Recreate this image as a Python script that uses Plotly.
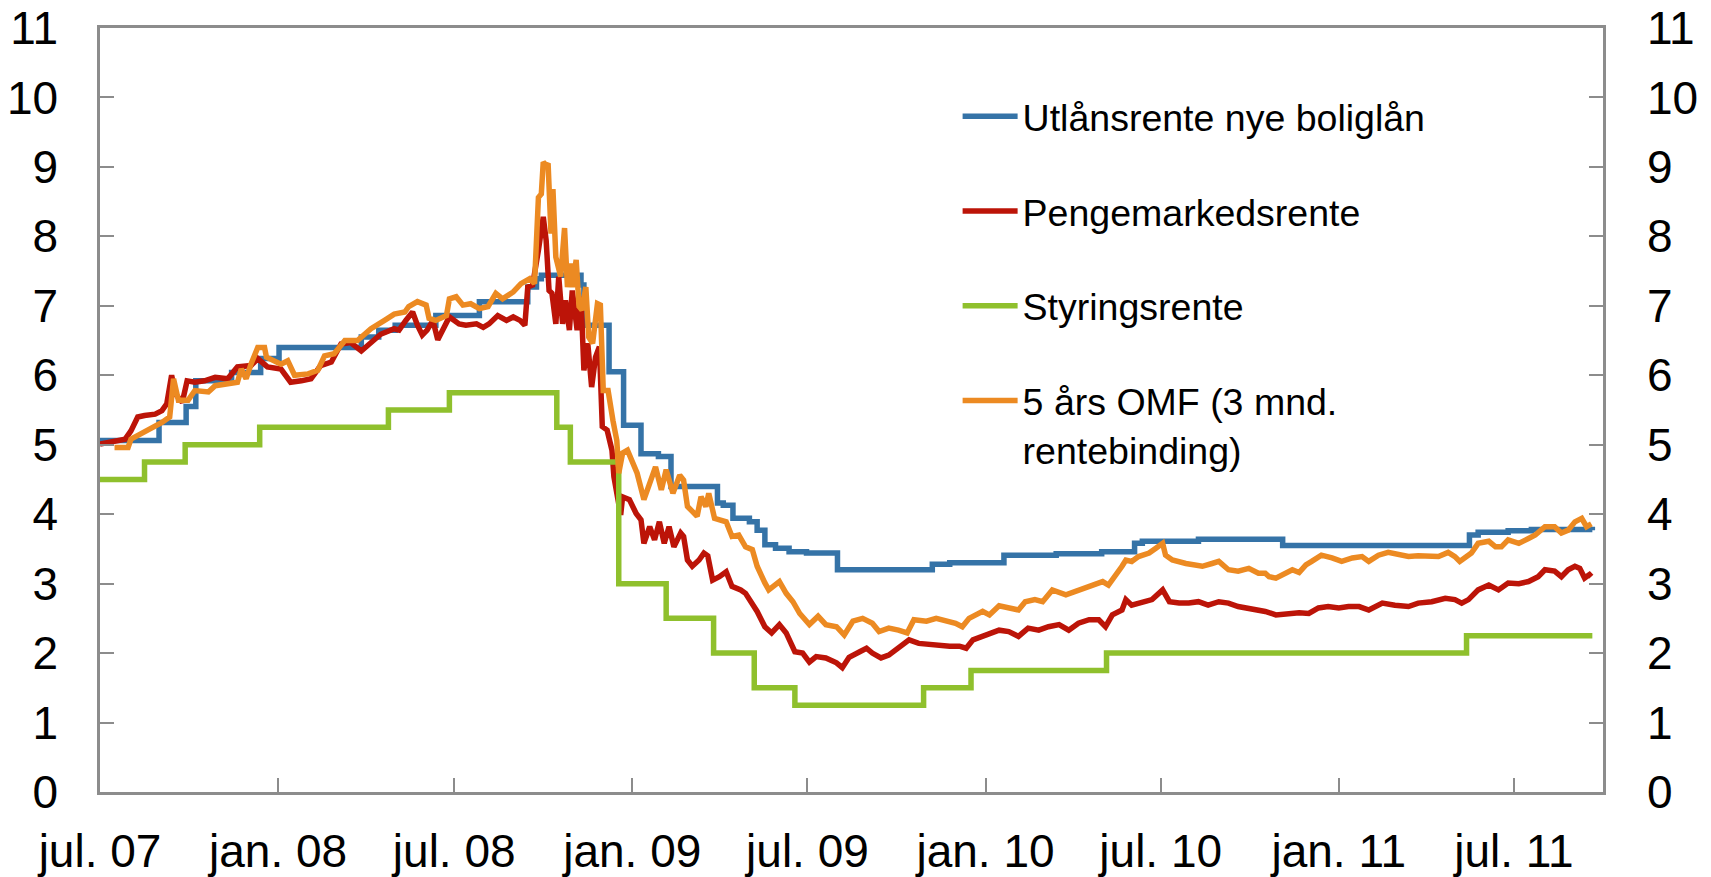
import plotly.graph_objects as go

# ---------------- data ----------------
bolig_dates = ["2007-07-01", "2007-08-31", "2007-09-28", "2007-10-08", "2007-11-14", "2007-12-14",
               "2008-01-02", "2008-03-27", "2008-04-14", "2008-05-01", "2008-06-12", "2008-07-27",
               "2008-09-15", "2008-09-24", "2008-09-29", "2008-11-09", "2008-11-12", "2008-12-08",
               "2008-12-23", "2009-01-10", "2009-01-28", "2009-02-10", "2009-03-30", "2009-04-05",
               "2009-04-15", "2009-05-02", "2009-05-10", "2009-05-18", "2009-05-29", "2009-06-12",
               "2009-06-30", "2009-08-01", "2009-11-07", "2009-11-25", "2010-01-20", "2010-03-15",
               "2010-05-01", "2010-06-04", "2010-06-12", "2010-08-09", "2010-11-04", "2011-05-16",
               "2011-05-25", "2011-06-25", "2011-07-19", "2011-09-20"]
bolig_values = [5.06, 5.32, 5.55, 5.92, 6.04, 6.24,
                6.40, 6.55, 6.65, 6.72, 6.86, 7.06,
                7.27, 7.39, 7.44, 7.30, 6.72, 6.05,
                5.28, 4.87, 4.83, 4.40, 4.16, 4.13,
                3.94, 3.89, 3.77, 3.56, 3.51, 3.46,
                3.44, 3.20, 3.28, 3.30, 3.41, 3.43,
                3.46, 3.58, 3.61, 3.64, 3.55, 3.70,
                3.74, 3.76, 3.78, 3.77]

penge_dates = ["2007-07-01", "2007-07-16", "2007-07-27", "2007-08-02", "2007-08-09", "2007-08-16",
               "2007-08-27", "2007-09-03", "2007-09-08", "2007-09-13", "2007-09-17", "2007-09-24",
               "2007-09-29", "2007-10-07", "2007-10-17", "2007-10-28", "2007-11-10", "2007-11-20",
               "2007-12-04", "2007-12-11", "2007-12-21", "2008-01-04", "2008-01-14", "2008-01-25",
               "2008-02-04", "2008-02-14", "2008-02-25", "2008-03-06", "2008-03-16", "2008-03-27",
               "2008-04-06", "2008-04-16", "2008-04-30", "2008-05-05", "2008-05-12", "2008-05-19",
               "2008-05-24", "2008-05-29", "2008-06-03", "2008-06-09", "2008-06-14", "2008-06-19",
               "2008-06-26", "2008-07-06", "2008-07-13", "2008-07-24", "2008-07-31", "2008-08-06",
               "2008-08-15", "2008-08-24", "2008-08-31", "2008-09-07", "2008-09-12", "2008-09-15",
               "2008-09-20", "2008-09-26", "2008-09-29", "2008-10-01", "2008-10-04", "2008-10-07",
               "2008-10-10", "2008-10-14", "2008-10-17", "2008-10-21", "2008-10-24", "2008-10-28",
               "2008-10-31", "2008-11-05", "2008-11-09", "2008-11-12", "2008-11-16", "2008-11-20",
               "2008-11-24", "2008-11-28", "2008-12-01", "2008-12-06", "2008-12-11", "2008-12-13",
               "2008-12-20", "2008-12-22", "2008-12-29", "2009-01-05", "2009-01-10", "2009-01-13",
               "2009-01-19", "2009-01-24", "2009-01-29", "2009-02-03", "2009-02-08", "2009-02-13",
               "2009-02-20", "2009-02-23", "2009-02-27", "2009-03-04", "2009-03-11", "2009-03-16",
               "2009-03-20", "2009-03-25", "2009-04-01", "2009-04-08", "2009-04-14", "2009-04-23",
               "2009-04-28", "2009-05-05", "2009-05-10", "2009-05-18", "2009-05-25", "2009-06-02",
               "2009-06-09", "2009-06-18", "2009-06-26", "2009-07-03", "2009-07-10", "2009-07-20",
               "2009-07-31", "2009-08-06", "2009-08-13", "2009-08-24", "2009-08-31", "2009-09-06",
               "2009-09-15", "2009-09-23", "2009-10-03", "2009-10-14", "2009-10-24", "2009-11-04",
               "2009-11-15", "2009-11-25", "2009-12-05", "2009-12-12", "2009-12-19", "2010-01-01",
               "2010-01-08", "2010-01-15", "2010-01-25", "2010-02-04", "2010-02-14", "2010-02-25",
               "2010-03-07", "2010-03-18", "2010-03-28", "2010-04-07", "2010-04-18", "2010-04-28",
               "2010-05-05", "2010-05-12", "2010-05-22", "2010-05-26", "2010-06-01", "2010-06-12",
               "2010-06-22", "2010-07-03", "2010-07-10", "2010-07-20", "2010-07-30", "2010-08-09",
               "2010-08-19", "2010-08-30", "2010-09-09", "2010-09-19", "2010-09-30", "2010-10-10",
               "2010-10-17", "2010-10-28", "2010-11-07", "2010-11-14", "2010-11-21", "2010-12-01",
               "2010-12-11", "2010-12-21", "2011-01-01", "2011-01-11", "2011-01-22", "2011-02-01",
               "2011-02-15", "2011-02-28", "2011-03-14", "2011-03-24", "2011-04-07", "2011-04-21",
               "2011-05-01", "2011-05-08", "2011-05-15", "2011-05-25", "2011-06-05", "2011-06-15",
               "2011-06-25", "2011-07-06", "2011-07-16", "2011-07-26", "2011-08-02", "2011-08-12",
               "2011-08-19", "2011-08-26", "2011-09-02", "2011-09-07", "2011-09-12", "2011-09-17",
               "2011-09-19"]
penge_values = [5.01, 5.06, 5.08, 5.20, 5.40, 5.42,
                5.44, 5.49, 5.59, 6.00, 5.73, 5.61,
                5.92, 5.90, 5.92, 5.97, 5.95, 6.12,
                6.14, 6.24, 6.12, 6.09, 5.90, 5.92,
                5.95, 6.14, 6.19, 6.45, 6.47, 6.35,
                6.47, 6.59, 6.67, 6.65, 6.79, 6.91,
                6.72, 6.58, 6.65, 6.79, 6.51, 6.65,
                6.84, 6.74, 6.72, 6.74, 6.69, 6.74,
                6.86, 6.79, 6.84, 6.79, 6.72, 7.27,
                7.30, 7.80, 8.04, 8.28, 7.94, 7.22,
                7.18, 6.74, 7.42, 6.74, 7.08, 6.65,
                7.22, 6.65, 7.13, 6.07, 6.46, 5.83,
                6.26, 6.41, 5.26, 5.21, 4.92, 4.54,
                3.99, 4.25, 4.21, 4.01, 3.92, 3.58,
                3.82, 3.63, 3.89, 3.58, 3.82, 3.53,
                3.73, 3.68, 3.34, 3.25, 3.34, 3.44,
                3.40, 3.05, 3.10, 3.17, 2.96, 2.91,
                2.86, 2.72, 2.60, 2.38, 2.29, 2.41,
                2.29, 2.02, 2.00, 1.87, 1.95, 1.93,
                1.86, 1.79, 1.94, 2.02, 2.07, 2.00,
                1.93, 1.97, 2.07, 2.19, 2.14, 2.12,
                2.10, 2.10, 2.10, 2.07, 2.19, 2.26,
                2.31, 2.33, 2.31, 2.24, 2.36, 2.33,
                2.38, 2.41, 2.33, 2.43, 2.48, 2.48,
                2.38, 2.55, 2.62, 2.77, 2.69, 2.74,
                2.77, 2.91, 2.74, 2.72, 2.72, 2.74,
                2.69, 2.74, 2.72, 2.67, 2.65, 2.62,
                2.60, 2.55, 2.57, 2.57, 2.58, 2.57,
                2.65, 2.67, 2.65, 2.67, 2.67, 2.62,
                2.72, 2.69, 2.67, 2.72, 2.74, 2.79,
                2.77, 2.72, 2.77, 2.91, 2.98, 2.91,
                3.01, 3.00, 3.03, 3.10, 3.20, 3.18,
                3.10, 3.20, 3.25, 3.22, 3.08, 3.13,
                3.10]

styring_dates = ["2007-07-01", "2007-08-16", "2007-09-27", "2007-12-13", "2008-04-24", "2008-06-26",
                 "2008-10-15", "2008-10-29", "2008-12-18", "2009-02-05", "2009-03-26", "2009-05-07",
                 "2009-06-18", "2009-10-29", "2009-12-17", "2010-05-06", "2011-05-13", "2011-09-20"]
styring_values = [4.50, 4.75, 5.00, 5.25, 5.50, 5.75,
                  5.25, 4.75, 3.00, 2.50, 2.00, 1.50,
                  1.25, 1.50, 1.75, 2.00, 2.25, 2.25]

omf_dates = ["2007-07-16", "2007-07-30", "2007-08-02", "2007-08-13", "2007-08-23", "2007-09-03",
             "2007-09-11", "2007-09-15", "2007-09-20", "2007-09-30", "2007-10-07", "2007-10-21",
             "2007-10-28", "2007-11-10", "2007-11-20", "2007-11-24", "2007-11-29", "2007-12-04",
             "2007-12-11", "2007-12-18", "2007-12-20", "2008-01-04", "2008-01-11", "2008-01-18",
             "2008-02-01", "2008-02-11", "2008-02-18", "2008-02-28", "2008-03-10", "2008-03-23",
             "2008-04-06", "2008-04-20", "2008-04-30", "2008-05-11", "2008-05-15", "2008-05-24",
             "2008-06-02", "2008-06-05", "2008-06-12", "2008-06-23", "2008-06-26", "2008-07-03",
             "2008-07-10", "2008-07-18", "2008-07-27", "2008-08-05", "2008-08-13", "2008-08-20",
             "2008-08-31", "2008-09-08", "2008-09-17", "2008-09-22", "2008-09-24", "2008-09-26",
             "2008-09-29", "2008-10-01", "2008-10-04", "2008-10-06", "2008-10-09", "2008-10-11",
             "2008-10-14", "2008-10-19", "2008-10-23", "2008-10-26", "2008-10-30", "2008-10-31",
             "2008-11-04", "2008-11-07", "2008-11-10", "2008-11-14", "2008-11-17", "2008-11-21",
             "2008-11-26", "2008-11-29", "2008-12-02", "2008-12-07", "2008-12-12", "2008-12-16",
             "2008-12-18", "2008-12-22", "2008-12-27", "2009-01-01", "2009-01-06", "2009-01-13",
             "2009-01-19", "2009-01-25", "2009-01-31", "2009-02-05", "2009-02-12", "2009-02-19",
             "2009-02-23", "2009-02-27", "2009-03-04", "2009-03-09", "2009-03-13", "2009-03-18",
             "2009-03-21", "2009-03-27", "2009-04-08", "2009-04-14", "2009-04-21", "2009-04-28",
             "2009-05-05", "2009-05-10", "2009-05-18", "2009-05-22", "2009-06-02", "2009-06-09",
             "2009-06-16", "2009-06-23", "2009-07-03", "2009-07-12", "2009-07-20", "2009-07-31",
             "2009-08-08", "2009-08-17", "2009-08-27", "2009-09-06", "2009-09-13", "2009-09-23",
             "2009-10-03", "2009-10-12", "2009-10-19", "2009-11-01", "2009-11-11", "2009-11-22",
             "2009-12-01", "2009-12-08", "2009-12-15", "2009-12-29", "2010-01-05", "2010-01-15",
             "2010-01-25", "2010-02-04", "2010-02-11", "2010-02-21", "2010-03-01", "2010-03-11",
             "2010-03-25", "2010-04-04", "2010-04-14", "2010-04-25", "2010-05-02", "2010-05-08",
             "2010-05-15", "2010-05-22", "2010-05-26", "2010-06-01", "2010-06-08", "2010-06-19",
             "2010-06-26", "2010-07-03", "2010-07-06", "2010-07-13", "2010-07-27", "2010-08-02",
             "2010-08-13", "2010-08-23", "2010-08-30", "2010-09-09", "2010-09-19", "2010-09-30",
             "2010-10-10", "2010-10-17", "2010-10-21", "2010-10-28", "2010-11-07", "2010-11-14",
             "2010-11-21", "2010-11-28", "2010-12-04", "2010-12-14", "2010-12-25", "2011-01-04",
             "2011-01-15", "2011-01-25", "2011-02-01", "2011-02-11", "2011-02-21", "2011-03-04",
             "2011-03-14", "2011-03-24", "2011-04-04", "2011-04-14", "2011-04-24", "2011-05-01",
             "2011-05-06", "2011-05-11", "2011-05-18", "2011-05-25", "2011-06-05", "2011-06-12",
             "2011-06-18", "2011-06-25", "2011-07-06", "2011-07-16", "2011-07-23", "2011-08-02",
             "2011-08-12", "2011-08-19", "2011-08-26", "2011-09-02", "2011-09-09", "2011-09-14",
             "2011-09-19"]
omf_values = [4.96, 4.96, 5.08, 5.16, 5.25, 5.32,
              5.40, 5.95, 5.64, 5.64, 5.78, 5.76,
              5.85, 5.88, 5.90, 6.09, 5.95, 6.16,
              6.40, 6.40, 6.26, 6.16, 6.21, 6.00,
              6.02, 6.07, 6.28, 6.31, 6.50, 6.50,
              6.67, 6.79, 6.88, 6.91, 6.99, 7.06,
              7.01, 6.82, 6.79, 6.86, 7.10, 7.13,
              7.01, 7.03, 6.96, 6.99, 7.18, 7.10,
              7.20, 7.32, 7.39, 7.32, 8.08, 8.56,
              8.61, 9.07, 9.02, 9.05, 8.04, 8.68,
              7.70, 7.42, 8.12, 7.27, 7.61, 7.27,
              7.66, 6.99, 6.94, 7.27, 6.55, 6.46,
              7.03, 7.01, 5.78, 5.78, 5.35, 5.06,
              4.59, 4.88, 4.92, 4.73, 4.59, 4.21,
              4.45, 4.68, 4.35, 4.64, 4.30, 4.56,
              4.49, 4.11, 4.04, 3.97, 4.25, 4.11,
              4.30, 3.94, 3.89, 3.68, 3.70, 3.53,
              3.49, 3.25, 3.01, 2.91, 3.03, 2.86,
              2.74, 2.57, 2.41, 2.53, 2.41, 2.38,
              2.26, 2.46, 2.50, 2.43, 2.31, 2.36,
              2.33, 2.29, 2.48, 2.46, 2.50, 2.46,
              2.43, 2.38, 2.50, 2.60, 2.55, 2.68,
              2.65, 2.62, 2.74, 2.77, 2.74, 2.91,
              2.84, 2.89, 2.93, 2.98, 3.03, 2.98,
              3.10, 3.25, 3.34, 3.32, 3.39, 3.44,
              3.51, 3.58, 3.41, 3.34, 3.29, 3.27,
              3.25, 3.29, 3.32, 3.20, 3.18, 3.22,
              3.15, 3.15, 3.10, 3.08, 3.15, 3.20,
              3.16, 3.27, 3.32, 3.41, 3.37, 3.32,
              3.37, 3.39, 3.32, 3.41, 3.45, 3.41,
              3.39, 3.40, 3.39, 3.39, 3.45, 3.39,
              3.32, 3.37, 3.44, 3.58, 3.61, 3.53,
              3.53, 3.63, 3.58, 3.65, 3.70, 3.82,
              3.82, 3.73, 3.77, 3.89, 3.94, 3.82,
              3.86]

tick_dates = ["2007-07-01", "2008-01-01", "2008-07-01", "2009-01-01", "2009-07-01",
              "2010-01-01", "2010-07-01", "2011-01-01", "2011-07-01"]
tick_labels = ["jul. 07", "jan. 08", "jul. 08", "jan. 09", "jul. 09",
               "jan. 10", "jul. 10", "jan. 11", "jul. 11"]
y_ticks = list(range(0, 12))

series_names = ["Utlånsrente nye boliglån", "Pengemarkedsrente", "Styringsrente",
                "5 års OMF (3 mnd.<br>rentebinding)"]

# ---------------- style ----------------
BLUE = "#3573A7"
RED = "#BC1408"
GREEN = "#8FC02D"
ORANGE = "#EC8A22"
AXIS = "#8C8C8C"
FONT = "Liberation Sans, Arial, sans-serif"
LW = 5.5

fig = go.Figure()
fig.add_trace(go.Scatter(x=bolig_dates, y=bolig_values, name=series_names[0], mode="lines",
                         line=dict(color=BLUE, width=LW, shape="hv"), legendgroup="g1"))
fig.add_trace(go.Scatter(x=penge_dates, y=penge_values, name=series_names[1], mode="lines",
                         line=dict(color=RED, width=LW), legendgroup="g2"))
fig.add_trace(go.Scatter(x=styring_dates, y=styring_values, name=series_names[2], mode="lines",
                         line=dict(color=GREEN, width=LW, shape="hv"), legendgroup="g3"))
fig.add_trace(go.Scatter(x=omf_dates, y=omf_values, name=series_names[3], mode="lines",
                         line=dict(color=ORANGE, width=LW), legendgroup="g4"))
# empty helper trace so the right-hand axis is rendered
fig.add_trace(go.Scatter(x=[], y=[], yaxis="y2", showlegend=False, hoverinfo="skip"))

yaxis_common = dict(range=[0, 11], tickvals=y_ticks, ticks="inside", ticklen=14, tickwidth=2,
                    tickcolor=AXIS, showline=True, linecolor=AXIS, linewidth=2.5,
                    showgrid=False, zeroline=False, automargin=False,
                    tickfont=dict(family=FONT, size=46, color="black"))

fig.update_layout(
    width=1711, height=877,
    margin=dict(l=100, r=108, t=28, b=85),
    paper_bgcolor="white", plot_bgcolor="white",
    font=dict(family=FONT, color="black"),
    xaxis=dict(type="date", range=["2007-07-01", "2011-10-01"], tickvals=tick_dates,
               ticktext=tick_labels, ticks="inside", ticklen=14, tickwidth=2, tickcolor=AXIS,
               showline=True, linecolor=AXIS, linewidth=2.5, mirror=True, showgrid=False,
               zeroline=False, automargin=False, ticklabelstandoff=17,
               tickfont=dict(family=FONT, size=46, color="black")),
    yaxis=dict(side="left", ticklabelstandoff=30, **yaxis_common),
    yaxis2=dict(side="right", overlaying="y", ticklabelstandoff=32, **yaxis_common),
    legend=dict(x=0.5706, y=0.925, xanchor="left", yanchor="top", traceorder="grouped",
                tracegroupgap=43, itemwidth=55, valign="top", bgcolor="rgba(0,0,0,0)",
                font=dict(family=FONT, size=37.5, color="black")),
    showlegend=True,
)

fig.write_html("out.html", config={"displayModeBar": False},
               post_script="document.body.style.margin='0';document.body.style.overflow='hidden';")
